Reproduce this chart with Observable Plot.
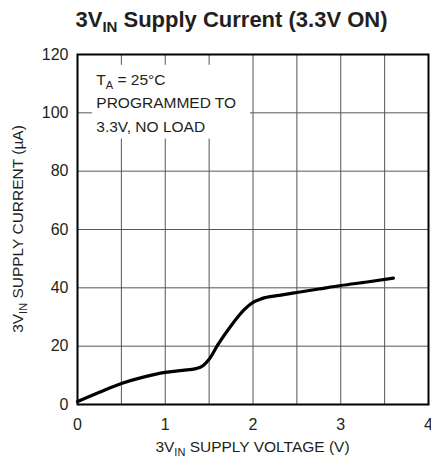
<!DOCTYPE html>
<html><head><meta charset="utf-8">
<script src="https://cdn.jsdelivr.net/npm/d3@7"></script>
<script src="https://cdn.jsdelivr.net/npm/@observablehq/plot@0.6"></script>
<style>
body{margin:0;background:#fff;font-family:"Liberation Sans",Arial,sans-serif;color:#231f20;}
#title{height:40px;width:399px;padding-left:32px;text-align:center;font-weight:bold;font-size:22px;line-height:40px;}
#title sub{font-size:15px;vertical-align:-5px;line-height:0}
svg text{font-family:"Liberation Sans",Arial,sans-serif;}
</style></head><body>
<div id="title">3V<sub>IN</sub> Supply Current (3.3V ON)</div>
<div id="chart"></div>
<script>
// Data
const voltage = [0, 0.25, 0.5, 0.75, 1.0, 1.2, 1.35, 1.43, 1.5, 1.6, 1.75, 1.9, 2.0, 2.1, 2.3, 2.5, 2.75, 3.0, 3.3, 3.6];
const current = [1.0, 4.2, 7.2, 9.4, 11.0, 11.7, 12.3, 13.3, 15.5, 20.5, 27.0, 32.5, 35.0, 36.3, 37.4, 38.4, 39.6, 40.8, 42.0, 43.3];
const xTicks = [0, 1, 2, 3, 4];
const xGrid = [0.5, 1, 1.5, 2, 2.5, 3, 3.5];
const yTicks = [0, 20, 40, 60, 80, 100, 120];
const yGrid = [20, 40, 60, 80, 100];
const noteLines = ["PROGRAMMED TO", "3.3V, NO LOAD"];

const data = voltage.map((v, i) => ({v, i: current[i]}));

const chart = Plot.plot({
  width: 431,
  height: 422,
  marginLeft: 77,
  marginRight: 3,
  marginTop: 14,
  marginBottom: 58,
  style: {fontSize: "16px", color: "#231f20", background: "#fff", overflow: "visible"},
  x: {domain: [0, 4]},
  y: {domain: [0, 120]},
  marks: [
    Plot.ruleX(xGrid, {stroke: "#555", strokeWidth: 1}),
    Plot.ruleY(yGrid, {stroke: "#555", strokeWidth: 1}),
    Plot.rect([{x1: 0.17, x2: 1.97, y1: 91, y2: 116.3}], {x1: "x1", x2: "x2", y1: "y1", y2: "y2", fill: "#fff"}),
    Plot.frame({stroke: "#000", strokeWidth: 2}),
    Plot.line(data, {x: "v", y: "i", stroke: "#000", strokeWidth: 3.2, curve: "monotone-x"}),
    Plot.axisX({ticks: xTicks, tickSize: 0, tickPadding: 14, label: null, tickFormat: d => String(d)}),
    Plot.axisY({ticks: yTicks, tickSize: 0, tickPadding: 9, label: null})
  ]
});

document.getElementById("chart").appendChild(chart);

const sx = chart.scale("x"), sy = chart.scale("y");
const svg = d3.select(chart);
const px = v => sx.apply(v), py = v => sy.apply(v);

// notes
const nx = px(0.22);
const t1 = svg.append("text").attr("x", nx).attr("y", py(109.5)).attr("font-size", 15.5).attr("text-anchor", "start").attr("fill", "#231f20");
t1.append("tspan").text("T");
t1.append("tspan").attr("font-size", 11).attr("dy", 4).text("A");
t1.append("tspan").attr("dy", -4).text(" = 25°C");
noteLines.forEach((s, k) => {
  svg.append("text").attr("x", nx).attr("y", py(101.5 - k * 8.1)).attr("font-size", 15.5).attr("text-anchor", "start").attr("fill", "#231f20").text(s);
});

// x axis label
const xl = svg.append("text").attr("x", (px(0) + px(4)) / 2).attr("y", 412).attr("text-anchor", "middle").attr("font-size", 15.5).attr("fill", "#231f20");
xl.append("tspan").text("3V");
xl.append("tspan").attr("font-size", 11).attr("dy", 4).text("IN");
xl.append("tspan").attr("dy", -4).text(" SUPPLY VOLTAGE (V)");

// y axis label
const cy = (py(0) + py(120)) / 2;
const yl = svg.append("text").attr("transform", `translate(23,${cy}) rotate(-90)`).attr("text-anchor", "middle").attr("font-size", 15.5).attr("fill", "#231f20");
yl.append("tspan").text("3V");
yl.append("tspan").attr("font-size", 11).attr("dy", 4).text("IN");
yl.append("tspan").attr("dy", -4).text(" SUPPLY CURRENT (\u00b5A)");
</script>
</body></html>
